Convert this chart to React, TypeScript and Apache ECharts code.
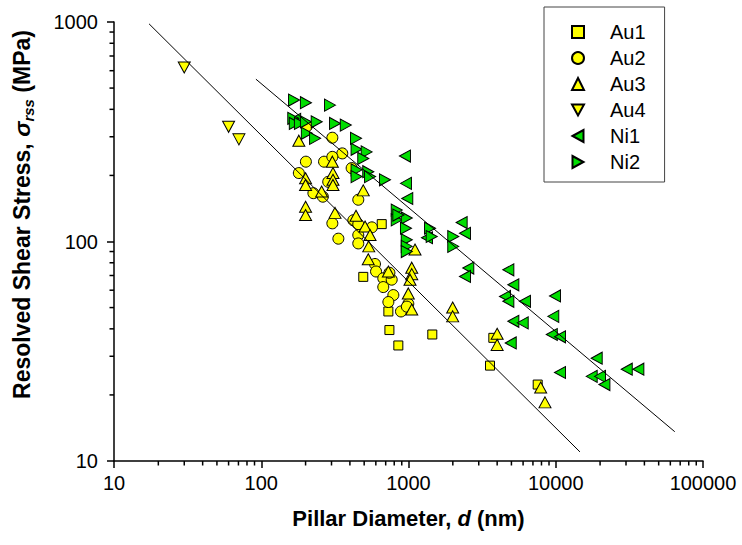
import React, { useEffect, useRef } from "react";
import * as echarts from "echarts";

const FONT = '"Liberation Sans", Arial, Helvetica, sans-serif';
const YELLOW = "#ffff00";
const GREEN = "#00dd00";

// Tick labels / minor ticks
const xMajorTicks = [10, 100, 1000, 10000, 100000];
const yMajorTicks = [10, 100, 1000];
const xMinorTicks = [20, 30, 40, 50, 60, 70, 80, 90, 200, 300, 400, 500, 600, 700, 800, 900,
  2000, 3000, 4000, 5000, 6000, 7000, 8000, 9000, 20000, 30000, 40000, 50000, 60000, 70000, 80000, 90000];
const yMinorTicks = [20, 30, 40, 50, 60, 70, 80, 90, 200, 300, 400, 500, 600, 700, 800, 900];

// Au1 (squares)
const au1X = [658, 493, 730, 742, 853, 1451, 3767, 3577, 7540];
const au1Y = [120, 69, 48, 39.5, 33.6, 37.7, 36.4, 27.2, 22.3];

// Au2 (circles)
const au2X = [304, 355, 201, 267, 304, 411, 180, 285, 226, 262, 456, 304, 334, 422, 456, 564, 456, 456,
  592, 602, 674, 674, 769, 789, 730, 889, 997, 742, 204, 975];
const au2Y = [297, 252, 231, 231, 243, 216, 205, 187, 166, 160, 155, 121, 103, 125, 120, 116, 107, 98,
  79, 73, 68, 62, 67, 57, 53, 48, 52, 72, 335, 50.5];

// Au3 (up triangles)
const au3X = [180, 304, 307, 307, 307, 200, 200, 257, 200, 200, 493, 317, 440, 507, 548, 537, 533, 730,
  1107, 1052, 1052, 1024, 1052, 997, 1995, 1995, 4000, 4000, 7900, 8450];
const au3Y = [288, 231, 205, 191, 181, 194, 181, 169, 144, 132, 171, 135, 131, 117, 107, 95, 83, 73,
  92, 76, 71, 67, 49, 58, 50, 45.6, 38, 33.8, 21.6, 18.5];

// Au4 (down triangles)
const au4X = [30, 60, 70.5];
const au4Y = [621, 333, 292];

// Ni1 (left triangles)
const ni1X = [170, 946, 961, 981, 1336, 2296, 2419, 2547, 2419, 4765, 5152, 4523, 4765, 6180, 5152, 5965,
  4946, 9886, 9620, 9400, 10690, 18970, 30350, 36390, 10690, 17540, 19980, 21400];
const ni1Y = [360, 245, 184, 157, 104, 122, 109, 75.7, 69.3, 74.3, 63.5, 56.2, 53.4, 53.4, 43.3, 42.6,
  34.5, 56.5, 45.6, 37.7, 36.8, 29.4, 26.2, 26.2, 25.3, 24.3, 24.3, 22.3];

// Ni2 (right triangles)
const ni2X = [167, 201, 293, 165, 169, 183, 201, 238, 317, 375, 204, 232, 440, 444, 520, 493, 444, 444,
  533, 548, 692, 832, 832, 973, 961, 853, 973, 973, 973, 1400, 1437, 2014, 2014];
const ni2Y = [441, 429, 418, 364, 345, 345, 351, 351, 345, 339, 311, 295, 295, 263, 256, 239, 212, 197.5,
  208, 197.5, 191, 139, 125.5, 128, 115, 132, 101.8, 95, 90, 115, 105.4, 105.4, 95];

// Fit lines
const auFitX = [17.3, 14600];
const auFitY = [981, 11];
const niFitX = [92, 64300];
const niFitY = [549, 13.6];

const zip = (xs: number[], ys: number[]) => xs.map((x, i) => [x, ys[i]]);

const ICON_DOWN = "path://M0,0L12,0L6,11Z";
const ICON_LEFT = "path://M0,6L11,0L11,12Z";
const ICON_RIGHT = "path://M0,0L11,6L0,12Z";

function scatter(name: string, xs: number[], ys: number[], symbol: string, size: any, rotate: number, color: string) {
  return {
    name,
    type: "scatter",
    data: zip(xs, ys),
    symbol,
    symbolSize: size,
    symbolRotate: rotate,
    itemStyle: { color, borderColor: "#000", borderWidth: 1, opacity: 1 },
    z: 3,
  };
}

function fitLine(xs: number[], ys: number[]) {
  return {
    type: "line",
    data: zip(xs, ys),
    showSymbol: false,
    symbol: "none",
    silent: true,
    lineStyle: { color: "#000", width: 1 },
    z: 4,
  };
}

function minorTicks(values: number[], horizontal: boolean) {
  return {
    type: "custom",
    coordinateSystem: "cartesian2d",
    silent: true,
    clip: false,
    z: 6,
    data: values.map((v) => (horizontal ? [v, 10] : [10, v])),
    renderItem: (params: any, api: any) => {
      const p = api.coord([api.value(0), api.value(1)]);
      const shape = horizontal
        ? { x1: p[0], y1: p[1], x2: p[0], y2: p[1] + 4.5 }
        : { x1: p[0], y1: p[1], x2: p[0] - 4.5, y2: p[1] };
      return { type: "line", shape, style: { stroke: "#000", lineWidth: 1.5 } };
    },
  };
}

export default function App() {
  const ref = useRef<HTMLDivElement>(null);
  useEffect(() => {
    document.body.style.margin = "0";
    const chart = echarts.init(ref.current!, null, { renderer: "svg" });
    const axisCommon = {
      axisLine: { show: true, onZero: false, lineStyle: { color: "#000", width: 1.5 } },
      axisTick: { show: true, inside: false, length: 7, lineStyle: { color: "#000", width: 1.5 } },
      splitLine: { show: false },
      minorTick: { show: false },
      minorSplitLine: { show: false },
    };
    chart.setOption({
      animation: false,
      backgroundColor: "#fff",
      grid: { left: 114, right: 39, top: 22, bottom: 84, containLabel: false, outerBoundsMode: "none" },
      xAxis: {
        type: "log",
        logBase: 10,
        min: xMajorTicks[0],
        max: xMajorTicks[xMajorTicks.length - 1],
        splitNumber: 4,
        ...axisCommon,
        axisLabel: {
          fontFamily: FONT,
          fontSize: 20,
          color: "#000",
          margin: 12,
          formatter: (v: number) => String(Math.round(v)),
        },
        name: "Pillar Diameter, {i|d} (nm)",
        nameLocation: "middle",
        nameGap: 46,
        nameTextStyle: {
          fontFamily: FONT,
          fontSize: 22,
          fontWeight: "bold",
          color: "#000",
          rich: {
            i: { fontFamily: FONT, fontSize: 22, fontWeight: "bold", fontStyle: "italic", color: "#000" },
          },
        },
      },
      yAxis: {
        type: "log",
        logBase: 10,
        min: yMajorTicks[0],
        max: yMajorTicks[yMajorTicks.length - 1],
        splitNumber: 2,
        ...axisCommon,
        axisLabel: {
          fontFamily: FONT,
          fontSize: 20,
          color: "#000",
          margin: 16,
          formatter: (v: number) => String(Math.round(v)),
        },
        name: "Resolved Shear Stress, {i|σ}{s|rss} (MPa)",
        nameLocation: "middle",
        nameGap: 78,
        nameTextStyle: {
          fontFamily: FONT,
          fontSize: 23,
          fontWeight: "bold",
          color: "#000",
          lineHeight: 28,
          padding: [0, 0, 0, 54],
          rich: {
            i: { fontFamily: FONT, fontSize: 23, fontWeight: "bold", fontStyle: "italic", color: "#000", lineHeight: 28 },
            s: { fontFamily: FONT, fontSize: 15, fontWeight: "bold", fontStyle: "italic", color: "#000", verticalAlign: "bottom", lineHeight: 15 },
          },
        },
      },
      legend: {
        data: [
          { name: "Au1" },
          { name: "Au2" },
          { name: "Au3" },
          { name: "Au4", icon: ICON_DOWN },
          { name: "Ni1", icon: ICON_LEFT },
          { name: "Ni2", icon: ICON_RIGHT },
        ],
        orient: "vertical",
        left: 544,
        top: 7,
        padding: [14, 19, 9, 27],
        itemWidth: 12,
        itemHeight: 12,
        itemGap: 4,
        borderColor: "#444",
        borderWidth: 1,
        backgroundColor: "#fff",
        textStyle: { fontFamily: FONT, fontSize: 20, color: "#000", lineHeight: 22, padding: [0, 0, 0, 21] },
      },
      series: [
        fitLine(auFitX, auFitY),
        fitLine(niFitX, niFitY),
        scatter("Au1", au1X, au1Y, "rect", 9, 0, YELLOW),
        scatter("Au2", au2X, au2Y, "circle", 11, 0, YELLOW),
        scatter("Au3", au3X, au3Y, "triangle", [12, 11], 0, YELLOW),
        scatter("Au4", au4X, au4Y, "triangle", [12, 11], 180, YELLOW),
        scatter("Ni1", ni1X, ni1Y, "triangle", [12, 11], 90, GREEN),
        scatter("Ni2", ni2X, ni2Y, "triangle", [12, 11], -90, GREEN),
        minorTicks(xMinorTicks, true),
        minorTicks(yMinorTicks, false),
      ],
    });
    return () => chart.dispose();
  }, []);
  return <div ref={ref} style={{ width: 742, height: 545 }} />;
}
